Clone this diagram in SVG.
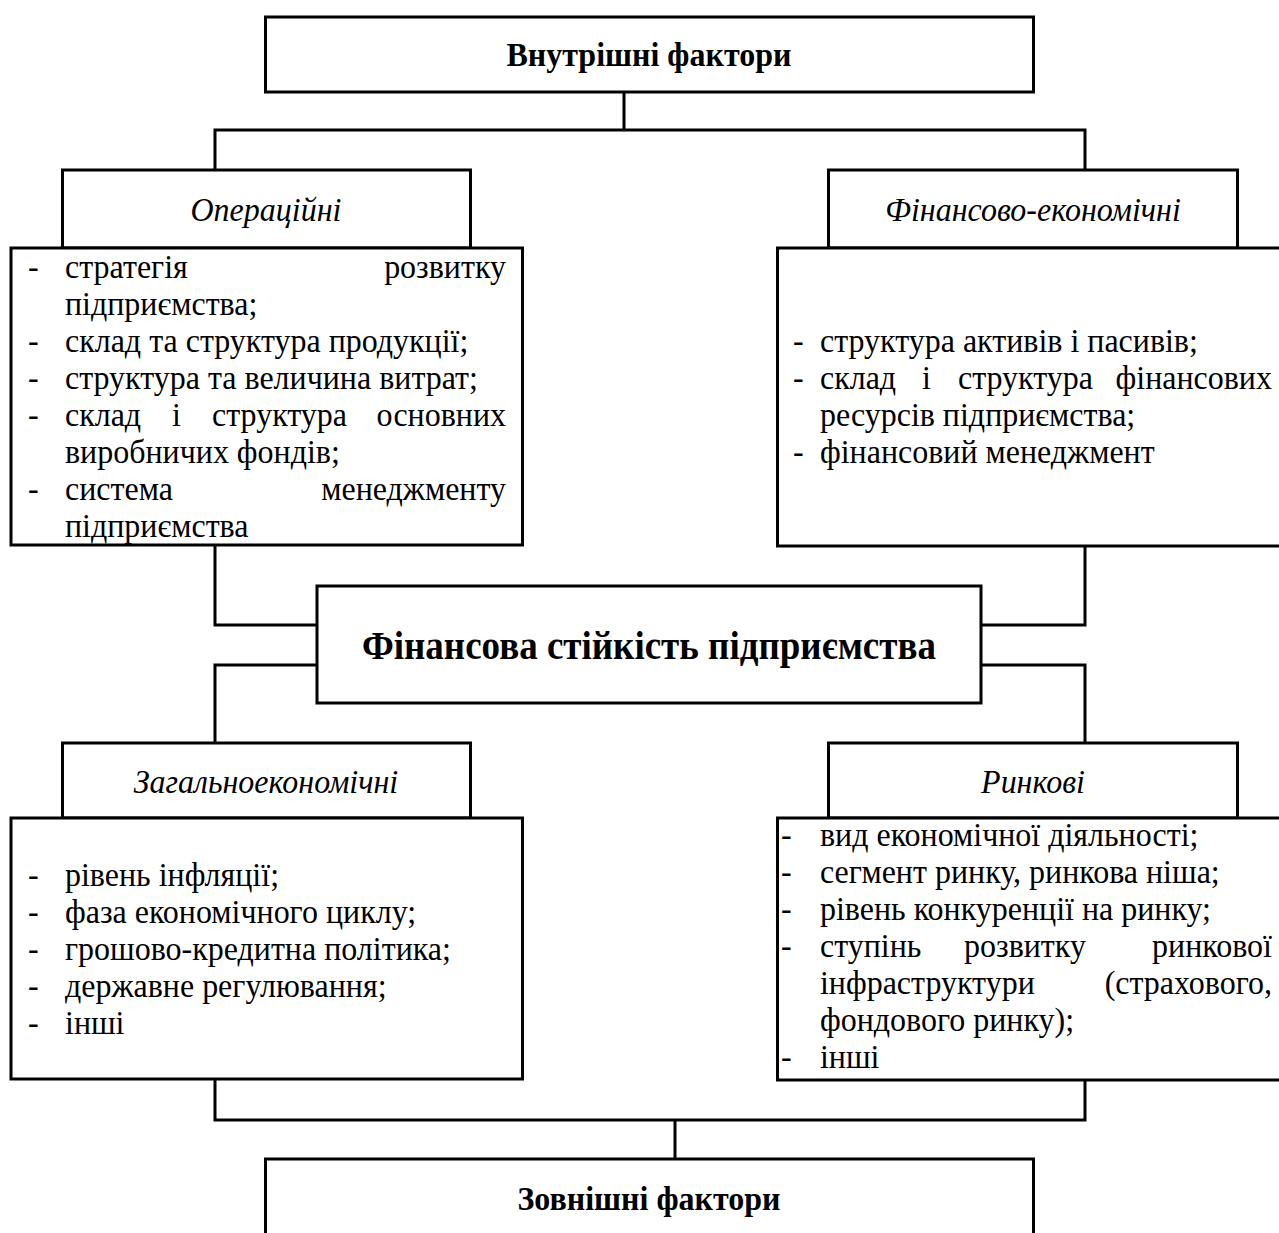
<svg xmlns="http://www.w3.org/2000/svg" width="1279" height="1233" viewBox="0 0 1279 1233">
<style>
.box{fill:#fff;stroke:#000;stroke-width:3}
.con{fill:none;stroke:#000;stroke-width:3}
text{font-family:"Liberation Serif","Times New Roman",serif;fill:#000}
.t{font-size:34.4px}
.b{font-size:34.4px;font-weight:bold}
.big{font-size:39.8px;font-weight:bold}
.i{font-size:34.4px;font-style:italic}
.c{text-anchor:middle}
.e{text-anchor:end}
</style>
<rect width="1279" height="1233" fill="#fff"/>
<g id="connectors">
<path class="con" d="M624,92 V130 M215,170 V130 H1085 V170"/>
<path class="con" d="M215,545 V625 H317 M1085,546 V625 H981"/>
<path class="con" d="M317,665 H215 V743 M981,665 H1085 V743"/>
<path class="con" d="M215,1079 V1120 H1085 V1080 M675,1120 V1159"/>
</g>
<g id="internal">
<rect class="box" x="265.5" y="17" width="768" height="75"/>
<g transform="scale(0.93 1)"><text class="b c" x="697.8" y="66">Внутрішні фактори</text></g>
</g>
<g id="operational-header">
<rect class="box" x="62.5" y="170" width="408" height="78"/>
<g transform="scale(0.93 1)"><text class="i c" x="286" y="221">Операційні</text></g>
</g>
<g id="operational-list">
<rect class="box" x="11" y="248" width="511.5" height="297"/>
<g transform="scale(0.93 1)">
<text class="t" x="30.1" y="278">-</text><text class="t" x="69.9" y="278">стратегія</text><text class="t e" x="544.1" y="278">розвитку</text>
<text class="t" x="69.9" y="315">підприємства;</text>
<text class="t" x="30.1" y="352">-</text><text class="t" x="69.9" y="352">склад та структура продукції;</text>
<text class="t" x="30.1" y="389">-</text><text class="t" x="69.9" y="389">структура та величина витрат;</text>
<text class="t" x="30.1" y="426">-</text><text class="t" x="69.9" y="426">склад</text><text class="t" x="184.9" y="426">і</text><text class="t" x="228" y="426">структура</text><text class="t e" x="544.1" y="426">основних</text>
<text class="t" x="69.9" y="463">виробничих фондів;</text>
<text class="t" x="30.1" y="500">-</text><text class="t" x="69.9" y="500">система</text><text class="t e" x="544.1" y="500">менеджменту</text>
<text class="t" x="69.9" y="537">підприємства</text>
</g>
</g>
<g id="financial-header">
<rect class="box" x="828.5" y="170" width="409" height="78"/>
<g transform="scale(0.93 1)"><text class="i c" x="1110.8" y="221">Фінансово-економічні</text></g>
</g>
<g id="financial-list">
<rect class="box" x="777.5" y="248" width="530" height="298"/>
<g transform="scale(0.93 1)">
<text class="t" x="852.7" y="352">-</text><text class="t" x="881.7" y="352">структура активів і пасивів;</text>
<text class="t" x="852.7" y="389">-</text><text class="t" x="881.7" y="389">склад</text><text class="t" x="991.4" y="389">і</text><text class="t" x="1030.1" y="389">структура</text><text class="t e" x="1367.7" y="389">фінансових</text>
<text class="t" x="881.7" y="426">ресурсів підприємства;</text>
<text class="t" x="852.7" y="463">-</text><text class="t" x="881.7" y="463">фінансовий менеджмент</text>
</g>
</g>
<g id="stability">
<rect class="box" x="317" y="586" width="664" height="117"/>
<g transform="scale(0.93 1)"><text class="big c" x="697.8" y="659">Фінансова стійкість підприємства</text></g>
</g>
<g id="general-header">
<rect class="box" x="62.5" y="743" width="408" height="75"/>
<g transform="scale(0.93 1)"><text class="i c" x="286" y="793">Загальноекономічні</text></g>
</g>
<g id="general-list">
<rect class="box" x="11" y="818" width="511.5" height="261"/>
<g transform="scale(0.93 1)">
<text class="t" x="30.1" y="886">-</text><text class="t" x="69.9" y="886">рівень інфляції;</text>
<text class="t" x="30.1" y="923">-</text><text class="t" x="69.9" y="923">фаза економічного циклу;</text>
<text class="t" x="30.1" y="960">-</text><text class="t" x="69.9" y="960">грошово-кредитна політика;</text>
<text class="t" x="30.1" y="997">-</text><text class="t" x="69.9" y="997">державне регулювання;</text>
<text class="t" x="30.1" y="1034">-</text><text class="t" x="69.9" y="1034">інші</text>
</g>
</g>
<g id="market-header">
<rect class="box" x="828.5" y="743" width="409" height="75"/>
<g transform="scale(0.93 1)"><text class="i c" x="1110.8" y="793">Ринкові</text></g>
</g>
<g id="market-list">
<rect class="box" x="777.5" y="818" width="530" height="262"/>
<g transform="scale(0.93 1)">
<text class="t" x="839.8" y="846">-</text><text class="t" x="881.7" y="846">вид економічної діяльності;</text>
<text class="t" x="839.8" y="883">-</text><text class="t" x="881.7" y="883">сегмент ринку, ринкова ніша;</text>
<text class="t" x="839.8" y="920">-</text><text class="t" x="881.7" y="920">рівень конкуренції на ринку;</text>
<text class="t" x="839.8" y="957">-</text><text class="t" x="881.7" y="957">ступінь</text><text class="t" x="1036.6" y="957">розвитку</text><text class="t e" x="1367.7" y="957">ринкової</text>
<text class="t" x="881.7" y="994">інфраструктури</text><text class="t e" x="1367.7" y="994">(страхового,</text>
<text class="t" x="881.7" y="1031">фондового ринку);</text>
<text class="t" x="839.8" y="1068">-</text><text class="t" x="881.7" y="1068">інші</text>
</g>
</g>
<g id="external">
<rect class="box" x="265.5" y="1159" width="768" height="100"/>
<g transform="scale(0.93 1)"><text class="b c" x="697.8" y="1210">Зовнішні фактори</text></g>
</g>
</svg>
